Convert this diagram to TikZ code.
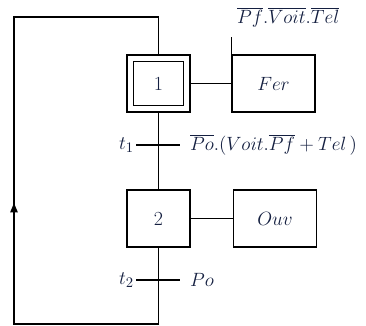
\documentclass[tikz,border=0pt]{standalone}
\usetikzlibrary{arrows.meta}
\definecolor{txt}{rgb}{0.08,0.12,0.25}
\begin{document}
\begin{tikzpicture}[x=0.75pt,y=-0.75pt,
  line width=1.1pt,
  stepbox/.style={draw,minimum width=47.25pt,minimum height=42.75pt,inner sep=0pt,text=txt},
  actbox/.style={draw,minimum width=62.25pt,minimum height=42.75pt,inner sep=0pt,text=txt},
  lbl/.style={text=txt,inner sep=1pt},
  every node/.append style={font=\fontsize{15}{17}\selectfont}]
\useasboundingbox (0,0) rectangle (366,325);
% step 1
\node[stepbox] (s1) at (158.5,83.5) {};
\node[draw,minimum width=37.5pt,minimum height=33pt,inner sep=0pt,text=txt,line width=1.35pt] (s1i) at (s1) {1};
\node[actbox] (a1) at (273.5,83.5) {$Fer$};
\draw (s1.east) -- (a1.west);
\coordinate (a1t) at ([yshift=13pt]a1.north west);
\draw (a1.north west) -- (a1t);
\node[lbl,anchor=base west] (c1) at (235,23) {$\overline{Pf}.\overline{Voit}.\overline{Tel}$};
% t1
\coordinate (t1l) at (136,145);
\coordinate (t1r) at (180,145);
\draw (t1l) -- (t1r);
\node[lbl,anchor=east] (t1n) at (t1l) {$t_1$};
\node[lbl,anchor=west] (t1c) at ([xshift=6pt]t1r) {$\overline{Po}.\big(Voit.\overline{Pf}+Tel\,\big)$};
% step 2
\node[stepbox] (s2) at (158.5,218.5) {2};
\node[actbox] (a2) at (275,218.5) {$Ouv$};
\draw (s2.east) -- (a2.west);
\draw (s1.south) -- (s2.north);
% t2
\coordinate (t2l) at (136,280);
\coordinate (t2r) at (180,280);
\draw (t2l) -- (t2r);
\node[lbl,anchor=east] (t2n) at (t2l) {$t_2$};
\node[lbl,anchor=west] (t2c) at ([xshift=6pt]t2r) {$Po$};
% loop
\coordinate (bl) at (158.5,324);
\coordinate (bll) at (14,324);
\coordinate (tl) at (14,17);
\coordinate (tr) at (158.5,17);
\coordinate (arr) at (14,203);
\draw (s2.south) -- (bl) -- (bll) -- (tl) -- (tr) -- (s1.north);
\draw[-{Triangle[length=7pt,width=5.5pt]}] (bll) -- (arr);
\end{tikzpicture}
\end{document}
